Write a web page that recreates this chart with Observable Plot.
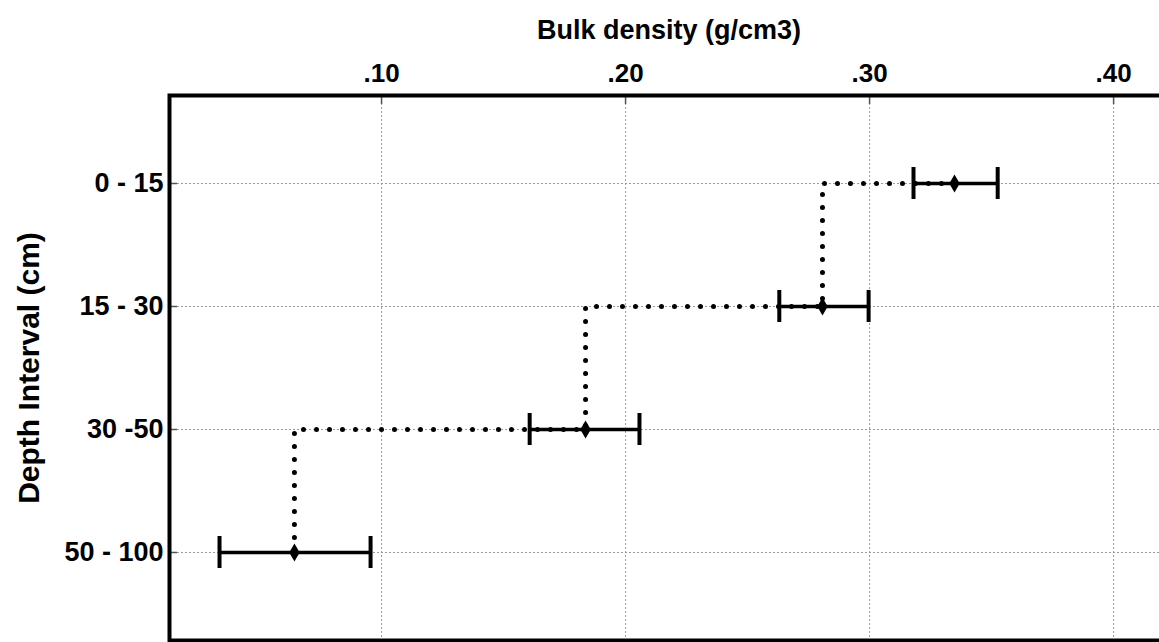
<!DOCTYPE html>
<html><head><meta charset="utf-8">
<script src="https://cdn.jsdelivr.net/npm/d3@7"></script>
<script src="https://cdn.jsdelivr.net/npm/@observablehq/plot@0.6"></script>
<style>
html,body{margin:0;padding:0;background:#fff;overflow:hidden;}
</style></head><body><div id="chart"></div>
<script>
const depths = ["0 - 15", "15 - 30", "30 -50", "50 - 100"];
const density = [0.3348, 0.2807, 0.1836, 0.0643];
const lower = [0.318, 0.263, 0.1607, 0.0336];
const upper = [0.3525, 0.2996, 0.2057, 0.0955];
const xTicks = [0.1, 0.2, 0.3, 0.4];

const rows = depths.map((d, i) => ({depth: d, value: density[i], lo: lower[i], hi: upper[i]}));
const fmt = d => d3.format(".2f")(d).replace(/^0/, "");

const plot = Plot.plot({
  width: 1170, height: 642,
  marginLeft: 169, marginRight: 2, marginTop: 95, marginBottom: 2,
  style: {fontFamily: "'Liberation Sans', Arial, sans-serif", fontWeight: "bold", fontSize: "26px", color: "#000", background: "#fff", overflow: "visible", maxWidth: "none"},
  x: {domain: [0.0131, 0.4225]},
  y: {type: "band", domain: depths, paddingInner: 0.74, paddingOuter: 0.58},
  marks: [
    Plot.gridX(xTicks, {stroke: "#999", strokeOpacity: 1, strokeDasharray: "2,2", strokeWidth: 1}),
    Plot.gridY(depths, {stroke: "#999", strokeOpacity: 1, strokeDasharray: "2,2", strokeWidth: 1}),
    Plot.axisX(xTicks, {anchor: "top", tickSize: 0, tickPadding: 14, tickFormat: fmt, fontSize: 26, label: null}),
    Plot.axisX(xTicks, {anchor: "top", tickSize: -8, tickFormat: () => "", stroke: "#555", strokeWidth: 1.5, fontSize: 27, label: "Bulk density (g/cm3)", labelAnchor: "center", labelOffset: 76, labelArrow: "none"}),
    Plot.axisY({anchor: "left", tickSize: 0, tickPadding: 6, fontSize: 27, label: null}),
    Plot.axisY({anchor: "left", tickSize: -8, tickFormat: () => "", stroke: "#555", strokeWidth: 1.5, fontSize: 30, label: "Depth Interval (cm)", labelAnchor: "center", labelOffset: 152, labelArrow: "none"}),
    Plot.line(rows, {x: "value", y: "depth", curve: "step-after", stroke: "#000", strokeWidth: 5, strokeDasharray: "0,13", strokeLinecap: "round"}),
    Plot.ruleY(rows, {y: "depth", x1: "lo", x2: "hi", stroke: "#000", strokeWidth: 3.5}),
    Plot.tickX(rows, {x: "lo", y: "depth", stroke: "#000", strokeWidth: 4}),
    Plot.tickX(rows, {x: "hi", y: "depth", stroke: "#000", strokeWidth: 4}),
    Plot.dot(rows, {x: "value", y: "depth", symbol: "diamond", r: 5.5, fill: "#000", stroke: "none"}),
    Plot.frame({stroke: "#000", strokeWidth: 4})
  ]
});
document.getElementById("chart").appendChild(plot);
</script></body></html>
